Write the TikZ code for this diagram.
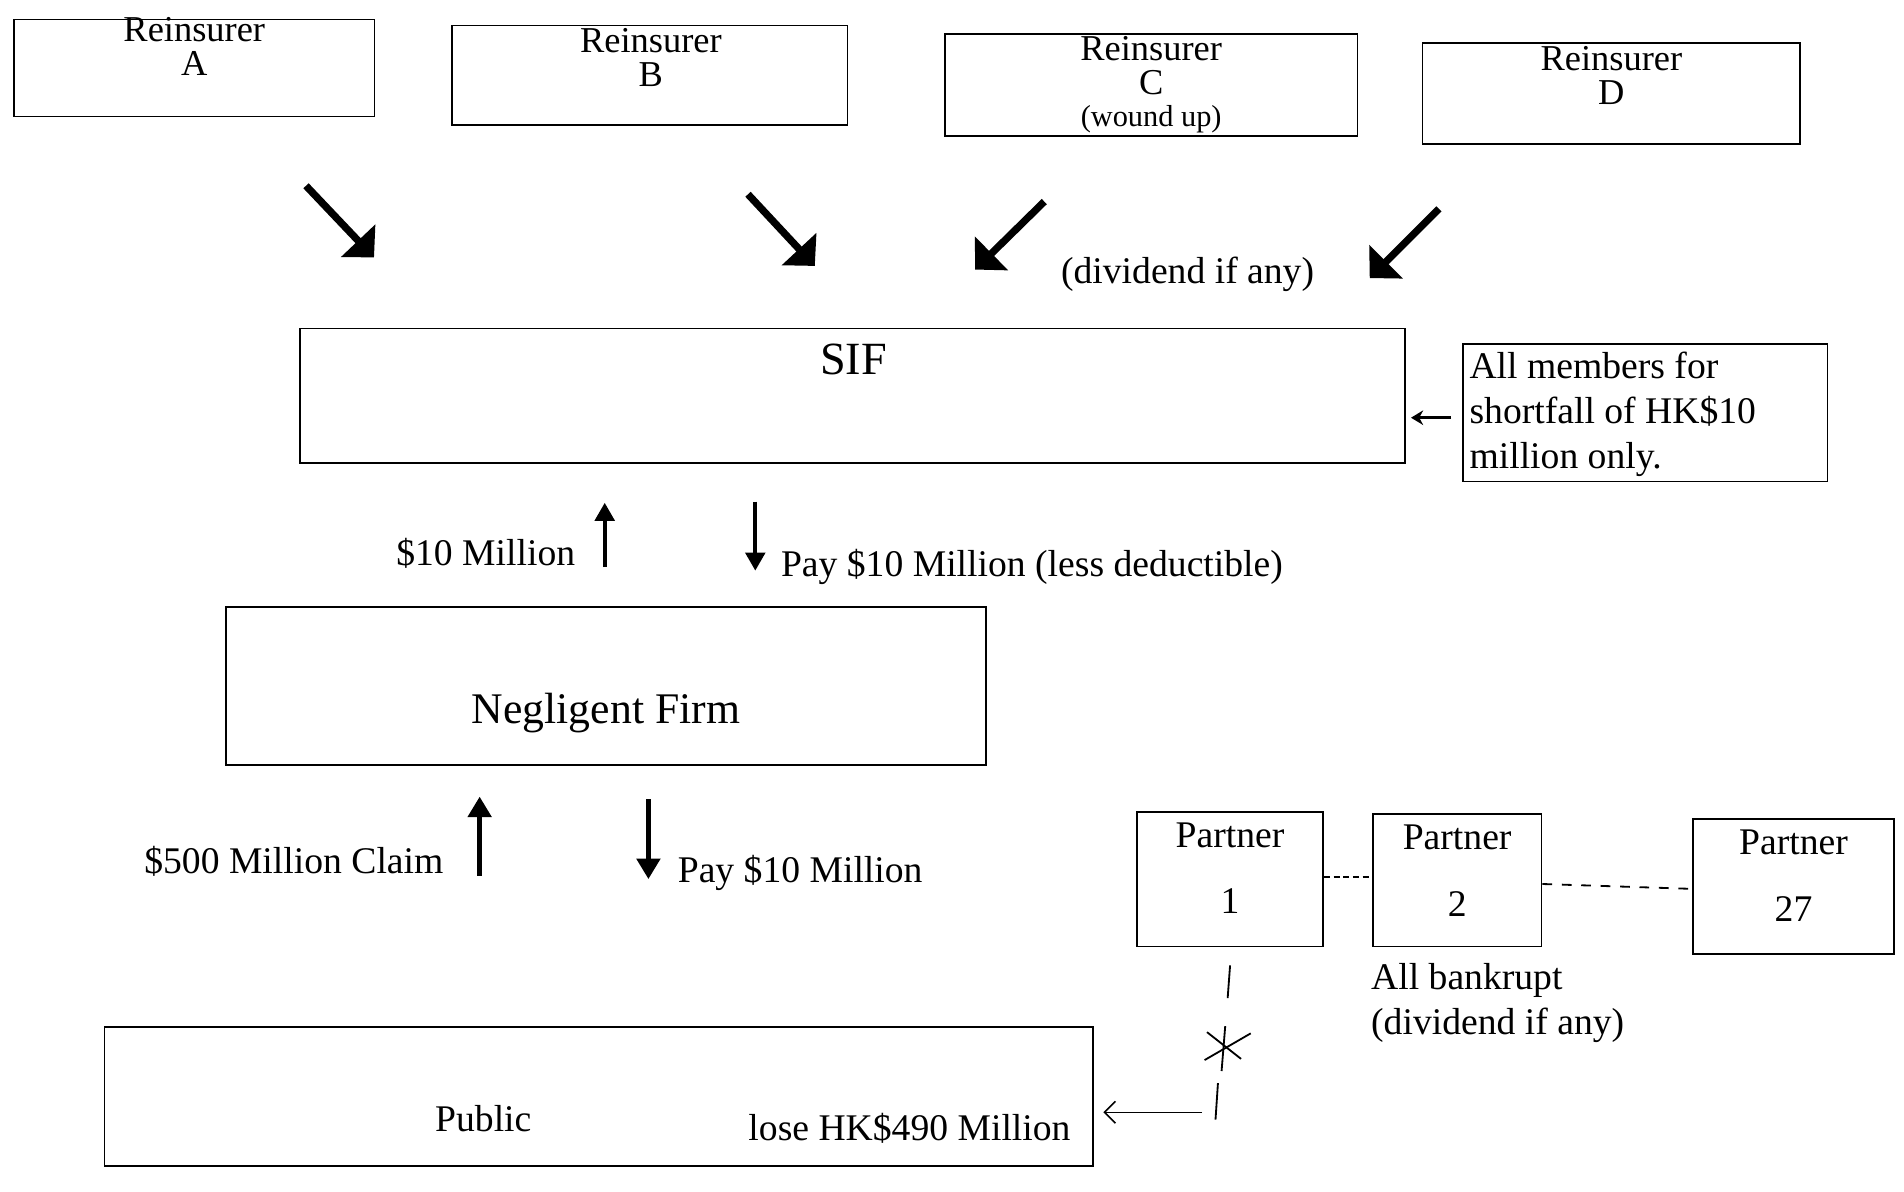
\documentclass[tikz,border=0pt]{standalone}
\usepackage{fontspec}
\setmainfont{Liberation Serif}
\usetikzlibrary{arrows.meta}
\begin{document}
\begin{tikzpicture}[x=1pt,y=-1pt,
  box/.style={draw,line width=1.4pt,inner sep=0pt},
  txt/.style={inner sep=0pt,align=center,font=\fontsize{30}{28}\selectfont},
  ptxt/.style={inner sep=0pt,align=center,font=\fontsize{31}{55}\selectfont},
  lab/.style={inner sep=0pt,font=\fontsize{31}{37}\selectfont},
  bigdiag/.style={line width=6pt,-{Triangle[length=19pt,width=38pt]}},
  vup/.style={line width=3.5pt,-{Triangle[length=15pt,width=16pt]}},
  vupb/.style={line width=4.5pt,-{Triangle[length=17pt,width=19pt]}},
  thinarr/.style={line width=2pt,-{Stealth[length=10pt,width=12pt]}},
  openarr/.style={line width=1.3pt,-{Straight Barb[length=9pt,width=18pt]}},
  dotln/.style={line width=1.5pt,dash pattern=on 5pt off 3pt},
  dashln/.style={line width=1.5pt,dash pattern=on 8pt off 8pt},
  crossln/.style={line width=1.5pt}
]
\useasboundingbox (0,0) rectangle (1568,981);

% Reinsurers
\node[box,minimum width=297pt,minimum height=80pt] (ra) at (160,56) {};
\node[txt] (rat) at (160,38) {Reinsurer\\A};
\node[box,minimum width=326pt,minimum height=82pt] (rb) at (535,62) {};
\node[txt] (rbt) at (536,47) {Reinsurer\\B};
\node[box,minimum width=340pt,minimum height=84pt] (rc) at (948,70) {};
\node[txt] (rct) at (948,54) {Reinsurer\\C};
\node[inner sep=0pt,font=\fontsize{25}{28}\selectfont] (rcw) at (948,98) {(wound up)};
\node[box,minimum width=311pt,minimum height=83pt] (rd) at (1327,77) {};
\node[txt] (rdt) at (1327,62) {Reinsurer\\D};

% diagonal arrows
\coordinate (a1) at (252,153); \coordinate (a2) at (308,212);
\coordinate (b1) at (616,160); \coordinate (b2) at (671,219);
\coordinate (c1) at (860,166); \coordinate (c2) at (803,222);
\coordinate (d1) at (1185,172); \coordinate (d2) at (1128,229);
\draw[bigdiag] (a1) -- (a2);
\draw[bigdiag] (b1) -- (b2);
\draw[bigdiag] (c1) -- (c2);
\draw[bigdiag] (d1) -- (d2);
\node[lab] (div1) at (978,226) {(dividend if any)};

% SIF
\node[box,minimum width=910pt,minimum height=111pt] (sif) at (702,326) {};
\node[inner sep=0pt,font=\fontsize{38}{40}\selectfont] (sift) at (703,296) {SIF};

\node[box,minimum width=300pt,minimum height=113pt] (mem) at (1355,340) {};
\node[lab,align=left,anchor=west] (memt) at (1210,341) {All members for\\shortfall of HK\$10\\million only.};
\coordinate (m0) at (1195,344); \coordinate (m9) at (1162,344);
\draw[thinarr] (m0) -- (m9);

% middle
\node[lab] (m1) at (400,456) {\$10 Million};
\coordinate (u1) at (498,467); \coordinate (u2) at (498,414);
\draw[vup] (u1) -- (u2);
\coordinate (v1) at (622,413); \coordinate (v2) at (622,470);
\draw[vup] (v1) -- (v2);
\node[lab,anchor=west] (m2) at (643,467) {Pay \$10 Million (less deductible)};

% Negligent firm
\node[box,minimum width=626pt,minimum height=130pt] (nf) at (499,565) {};
\node[inner sep=0pt,font=\fontsize{36}{40}\selectfont] (nft) at (499,587) {Negligent Firm};

% lower
\node[lab] (cl1) at (242,709) {\$500 Million Claim};
\coordinate (w1) at (395,721); \coordinate (w2) at (395,656);
\draw[vupb] (w1) -- (w2);
\coordinate (x1) at (534,658); \coordinate (x2) at (534,724);
\draw[vupb] (x1) -- (x2);
\node[lab,anchor=west] (cl2) at (558,719) {Pay \$10 Million};

% Partners
\node[box,minimum width=153pt,minimum height=111pt] (p1) at (1013,724) {};
\node[ptxt] (p1t) at (1013,715) {Partner\\1};
\node[box,minimum width=139pt,minimum height=109pt] (p2) at (1200,725) {};
\node[ptxt] (p2t) at (1200,717) {Partner\\2};
\node[box,minimum width=166pt,minimum height=111pt] (p27) at (1477,730) {};
\node[ptxt] (p27t) at (1477,721) {Partner\\27};
\draw[dotln] (p1.east |- 0,722) -- (p2.west |- 0,722);
\draw[dashln] (p2.east |- 0,728) -- (p27.west |- 0,732);
\node[lab,align=left,anchor=west] (bk) at (1129,826) {All bankrupt\\(dividend if any)};

% Public
\node[box,minimum width=814pt,minimum height=115pt] (pub) at (493,903) {};
\node[lab] (pubt) at (398,921) {Public};
\node[lab] (lose) at (749,929) {lose HK\$490 Million};

% broken connector from partner 1 to public
\draw[crossln] (1013,795) -- (1011,822);
\draw[crossln] (1009,845) -- (1006,882);
\draw[crossln] (994,850) -- (1022,872);
\draw[crossln] (992,873) -- (1030,851);
\draw[crossln] (1003,892) -- (1001,922);
\coordinate (h1) at (990,916);
\draw[openarr] (h1) -- ([xshift=8pt]pub.east |- h1);
\end{tikzpicture}
\end{document}
